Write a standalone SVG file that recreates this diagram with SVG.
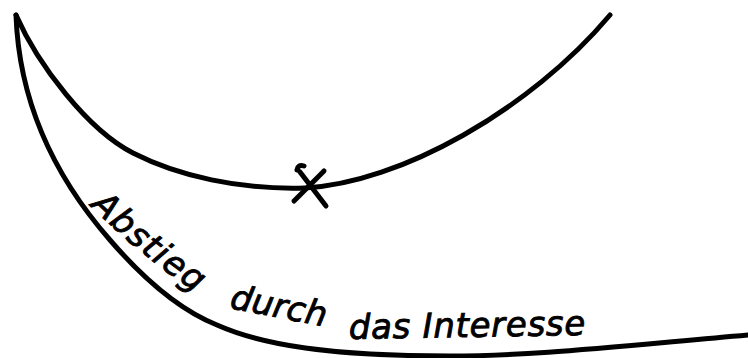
<svg xmlns="http://www.w3.org/2000/svg" width="748" height="358" viewBox="0 0 748 358">
  <style>
    .ln { fill: none; stroke: #000; stroke-width: 5; stroke-linecap: round; stroke-linejoin: round; }
    .tx { font-family: "DejaVu Sans", "Liberation Sans", sans-serif; font-style: italic; font-size: 34px; fill: #000; stroke: #000; stroke-width: 0.9; }
  </style>
  <defs>
    <path id="p-abstieg" d="M 90,206 C 112,226 142,258 210,302"/>
  </defs>
  <rect width="748" height="358" fill="#fff"/>
  <g id="curves">
    <path id="upper" class="ln" d="M 16,15 C 38,65 88,130 133,153 C 178,176 240,190 305,188 C 400,183 530,110 610,15"/>
    <path id="lower" class="ln" d="M 16,15 C 20,130 82,208 110,240 C 135,269 172,307 217,325 C 262,345 330,356 450,356 C 530,356 600,348 748,335"/>
  </g>
  <g id="mark">
    <path class="ln" d="M 297,170 Q 298,164 304,166 M 300,172 L 326,206"/>
    <path class="ln" d="M 324,171 L 294,201"/>
  </g>
  <g id="labels">
    <text class="tx" letter-spacing="1.5"><textPath href="#p-abstieg">Abstieg</textPath></text>
    <text class="tx" x="229" y="308" transform="rotate(11 229 308)">durch</text>
    <text class="tx" x="349" y="339" letter-spacing="0.7" transform="rotate(-1 349 339)">das Interesse</text>
  </g>
</svg>
